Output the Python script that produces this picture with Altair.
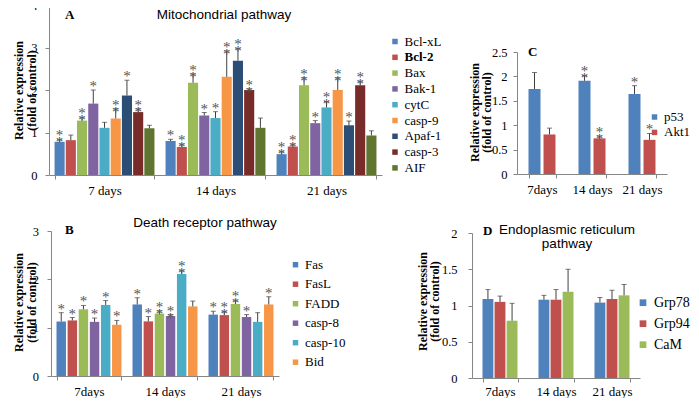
import altair as alt
import pandas as pd

SERIF = "Liberation Serif"
SANS = "Liberation Sans"
AX = "#868686"
EB = "#404040"
STAR = "#555555"

# ---------------- Panel A: Mitochondrial pathway ----------------
A_days = ["7 days", "14 days", "21 days"]
A_genes = ["Bcl-xL", "Bcl-2", "Bax", "Bak-1", "cytC", "casp-9", "Apaf-1", "casp-3", "AIF"]
A_colors = ["#4F81BD", "#C0504D", "#9BBB59", "#8064A2", "#4BACC6", "#F79646", "#2C4D75", "#772C2A", "#5F7530"]
A_val = {
    "Bcl-xL": [0.78, 0.80, 0.49], "Bcl-2": [0.82, 0.66, 0.67], "Bax": [1.28, 2.17, 2.11],
    "Bak-1": [1.68, 1.40, 1.22], "cytC": [1.11, 1.34, 1.59], "casp-9": [1.33, 2.31, 2.00],
    "Apaf-1": [1.87, 2.69, 1.17], "casp-3": [1.48, 2.00, 2.11], "AIF": [1.10, 1.11, 0.93],
}
A_err = {
    "Bcl-xL": [0.84, 0.84, 0.56], "Bcl-2": [0.94, 0.73, 0.73], "Bax": [1.36, 2.38, 2.29],
    "Bak-1": [2.00, 1.47, 1.28], "cytC": [1.24, 1.49, 1.73], "casp-9": [1.56, 2.92, 2.29],
    "Apaf-1": [2.23, 2.98, 1.27], "casp-3": [1.56, 2.03, 2.21], "AIF": [1.17, 1.34, 1.04],
}
A_star = {
    "Bcl-xL": ["**", "*", "**"], "Bcl-2": ["", "**", "**"], "Bax": ["**", "**", "**"],
    "Bak-1": ["*", "*", "*"], "cytC": ["", "*", "**"], "casp-9": ["**", "**", "**"],
    "Apaf-1": ["*", "**", "*"], "casp-3": ["**", "**", "**"], "AIF": ["", "", ""],
}
A_ticks = [0, 1, 2, 3, 4]

# ---------------- Panel B: Death receptor pathway ----------------
B_days = ["7days", "14 days", "21 days"]
B_genes = ["Fas", "FasL", "FADD", "casp-8", "casp-10", "Bid"]
B_colors = ["#4F81BD", "#C0504D", "#9BBB59", "#8064A2", "#4BACC6", "#F79646"]
B_val = {
    "Fas": [1.13, 1.48, 1.27], "FasL": [1.15, 1.13, 1.26], "FADD": [1.38, 1.29, 1.49],
    "casp-8": [1.12, 1.24, 1.22], "casp-10": [1.47, 2.11, 1.12], "Bid": [1.06, 1.44, 1.48],
}
B_err = {
    "Fas": [1.31, 1.62, 1.34], "FasL": [1.21, 1.23, 1.34], "FADD": [1.46, 1.35, 1.57],
    "casp-8": [1.20, 1.27, 1.27], "casp-10": [1.56, 2.19, 1.31], "Bid": [1.15, 1.55, 1.64],
}
B_star = {
    "Fas": ["*", "*", "*"], "FasL": ["*", "*", "**"], "FADD": ["*", "**", "**"],
    "casp-8": ["*", "**", "*"], "casp-10": ["*", "**", ""], "Bid": ["*", "", "*"],
}
B_ticks = [0, 1, 2, 3]

# ---------------- Panel C ----------------
C_days = ["7days", "14 days", "21 days"]
C_genes = ["p53", "Akt1"]
C_colors = ["#4F81BD", "#C0504D"]
C_val = {"p53": [1.74, 1.91, 1.64], "Akt1": [0.81, 0.73, 0.70]}
C_err = {"p53": [2.08, 2.02, 1.81], "Akt1": [0.94, 0.78, 0.83]}
C_star = {"p53": ["", "**", "*"], "Akt1": ["", "**", "*"]}
C_ticks = [0, 0.5, 1, 1.5, 2, 2.5]

# ---------------- Panel D: Endoplasmic reticulum pathway ----------------
D_days = ["7days", "14 days", "21 days"]
D_genes = ["Grp78", "Grp94", "CaM"]
D_colors = ["#4F81BD", "#C0504D", "#9BBB59"]
D_val = {"Grp78": [1.09, 1.08, 1.04], "Grp94": [1.05, 1.08, 1.09], "CaM": [0.79, 1.19, 1.14]}
D_err = {"Grp78": [1.22, 1.14, 1.11], "Grp94": [1.13, 1.22, 1.21], "CaM": [1.03, 1.50, 1.29]}
D_star = {"Grp78": ["", "", ""], "Grp94": ["", "", ""], "CaM": ["", "", ""]}
D_ticks = [0, 0.5, 1, 1.5, 2]

Y_TITLE = ["Relative expression", "(fold of control)"]


def long_df(days, genes, vals, errs, stars):
    rows = []
    for g in genes:
        for i, d in enumerate(days):
            rows.append({"day": d, "gene": g, "val": vals[g][i], "err": errs[g][i],
                         "star": "\n".join(list(stars[g][i]))})
    return pd.DataFrame(rows)


def text_layer(txt, x, y, font, size, weight="normal", align="center", line_height=14):
    return alt.Chart(pd.DataFrame({"t": [txt]})).mark_text(
        font=font, fontSize=size, fontWeight=weight, align=align, baseline="middle",
        color="#000000", lineBreak="\n", lineHeight=line_height
    ).encode(x=alt.value(x), y=alt.value(y), text="t:N")


def panel(df, days, genes, colors, ticks, *, width, height, xrange, xpi, xpo, opi,
          yrange, ylab_pad, xlab_pad, title_x, title_y, yoff, xoff, legend, extra):
    ax_x = alt.Axis(title=None, labelAngle=0, labelFont=SERIF, labelFontSize=13, labelColor="#000000",
                    tickBand="extent", tickSize=4, tickColor=AX, domainColor=AX, labelPadding=xlab_pad,
                    offset=xoff, grid=False)
    x = alt.X("day:N", sort=days,
              scale=alt.Scale(domain=days, range=xrange, paddingInner=xpi, paddingOuter=xpo),
              axis=ax_x)
    xo = alt.XOffset("gene:N", sort=genes,
                     scale=alt.Scale(domain=genes, paddingInner=opi, paddingOuter=0))
    ysc = alt.Scale(domain=[ticks[0], ticks[-1]], range=yrange, nice=False)
    ax_y = alt.Axis(values=ticks, format="~g", title=Y_TITLE, titleFont=SERIF, titleFontWeight="bold",
                    titleFontSize=12, titleLineHeight=12.5, titleAngle=270, titleAlign="center",
                    titleBaseline="middle", titleX=title_x, titleY=title_y, titleColor="#000000",
                    labelFont=SERIF, labelFontSize=12.5, labelColor="#000000", labelPadding=ylab_pad,
                    tickSize=4, tickColor=AX, domainColor=AX, grid=False, offset=yoff)
    base = alt.Chart(df)
    bars = base.mark_bar().encode(
        x=x, xOffset=xo, y=alt.Y("val:Q", scale=ysc, axis=ax_y),
        color=alt.Color("gene:N", scale=alt.Scale(domain=genes, range=colors), legend=legend))
    rules = base.mark_rule(color=EB, strokeWidth=1).encode(
        x=x, xOffset=xo, y=alt.Y("val:Q", scale=ysc, axis=ax_y), y2="err:Q")
    caps = base.mark_tick(color=EB, thickness=1, size=5).encode(
        x=x, xOffset=xo, y=alt.Y("err:Q", scale=ysc, axis=ax_y))
    stars = base.mark_text(font=SERIF, fontSize=15, color=STAR, baseline="bottom",
                           lineBreak="\n", lineHeight=7, dy=4).encode(
        x=x, xOffset=xo, y=alt.Y("err:Q", scale=ysc, axis=ax_y), text="star:N")
    return alt.layer(bars, rules, caps, stars, *extra).properties(width=width, height=height)


def leg(lx, ly, size, sym, rowpad, offset=3, bold_expr=None):
    kw = dict(orient="none", legendX=lx, legendY=ly, title=None, symbolType="square",
              symbolSize=sym, symbolStrokeWidth=0, labelFont=SERIF, labelFontSize=size,
              labelColor="#000000", labelOffset=offset, rowPadding=rowpad, padding=0)
    if bold_expr:
        kw["labelFontWeight"] = {"expr": bold_expr}
    return alt.Legend(**kw)


SP = 56  # gap between panel cells (rows and columns)

# grid cells: column 1 at page x 49, column 2 at 49+333+56 = 438; rows at y 5 and 231
A = panel(long_df(A_days, A_genes, A_val, A_err, A_star), A_days, A_genes, A_colors, A_ticks,
          width=333, height=170, xrange=[0, 333], xpi=0.1, xpo=0.05, opi=0.1,
          yrange=[170, 0], ylab_pad=8, xlab_pad=5, title_x=-30.5, title_y=85, yoff=0, xoff=0,
          legend=leg(339.5, 30, 13, 30, 1.8, bold_expr="datum.label === 'Bcl-2' ? 'bold' : 'normal'"),
          extra=[text_layer("Mitochondrial pathway", 175, 10, SANS, 13.5),
                 text_layer("A", 16, 9.5, SERIF, 13, weight="bold", align="left")])

C = panel(long_df(C_days, C_genes, C_val, C_err, C_star), C_days, C_genes, C_colors, C_ticks,
          width=229, height=170, xrange=[79, 229], xpi=0.46, xpo=0.23, opi=0.2,
          yrange=[169, 47], ylab_pad=6, xlab_pad=5, title_x=-43, title_y=107, yoff=-79, xoff=-1,
          legend=leg(210, 105.5, 13, 30, 1.4),
          extra=[text_layer("C", 90, 47, SERIF, 13, weight="bold", align="left")])

B = panel(long_df(B_days, B_genes, B_val, B_err, B_star), B_days, B_genes, B_colors, B_ticks,
          width=230, height=145, xrange=[2, 230], xpi=0.145, xpo=0.0725, opi=0.15,
          yrange=[145, 0], ylab_pad=8.5, xlab_pad=5, title_x=-32.5, title_y=71, yoff=-2, xoff=0,
          legend=leg(240, 27.2, 13, 30, 5.5),
          extra=[text_layer("Death receptor pathway", 156, -8, SANS, 13.5),
                 text_layer("B", 16, -1, SERIF, 13, weight="bold", align="left")])

D = panel(long_df(D_days, D_genes, D_val, D_err, D_star), D_days, D_genes, D_colors, D_ticks,
          width=202, height=147, xrange=[34, 202], xpi=0.375, xpo=0.1875, opi=0.1,
          yrange=[147, 2], ylab_pad=11, xlab_pad=3, title_x=-50, title_y=70, yoff=-34, xoff=0,
          legend=leg(198, 64.7, 14, 45, 7, offset=4),
          extra=[text_layer("Endoplasmic reticulum\npathway", 129, -1, SANS, 13.5),
                 text_layer("D", 45, 0, SERIF, 13, weight="bold", align="left")])

chart = alt.concat(
    A, C, B, D, columns=2, spacing=SP, bounds="flush", align="each"
).resolve_scale(
    color="independent", x="independent", y="independent", xOffset="independent"
).properties(
    autosize=alt.AutoSizeParams(type="none"),
    padding={"left": 41, "top": -3, "right": 642, "bottom": 393},
    background="white",
).configure_view(strokeWidth=0)

chart.save("out.html", embed_options={"renderer": "svg", "actions": False})
